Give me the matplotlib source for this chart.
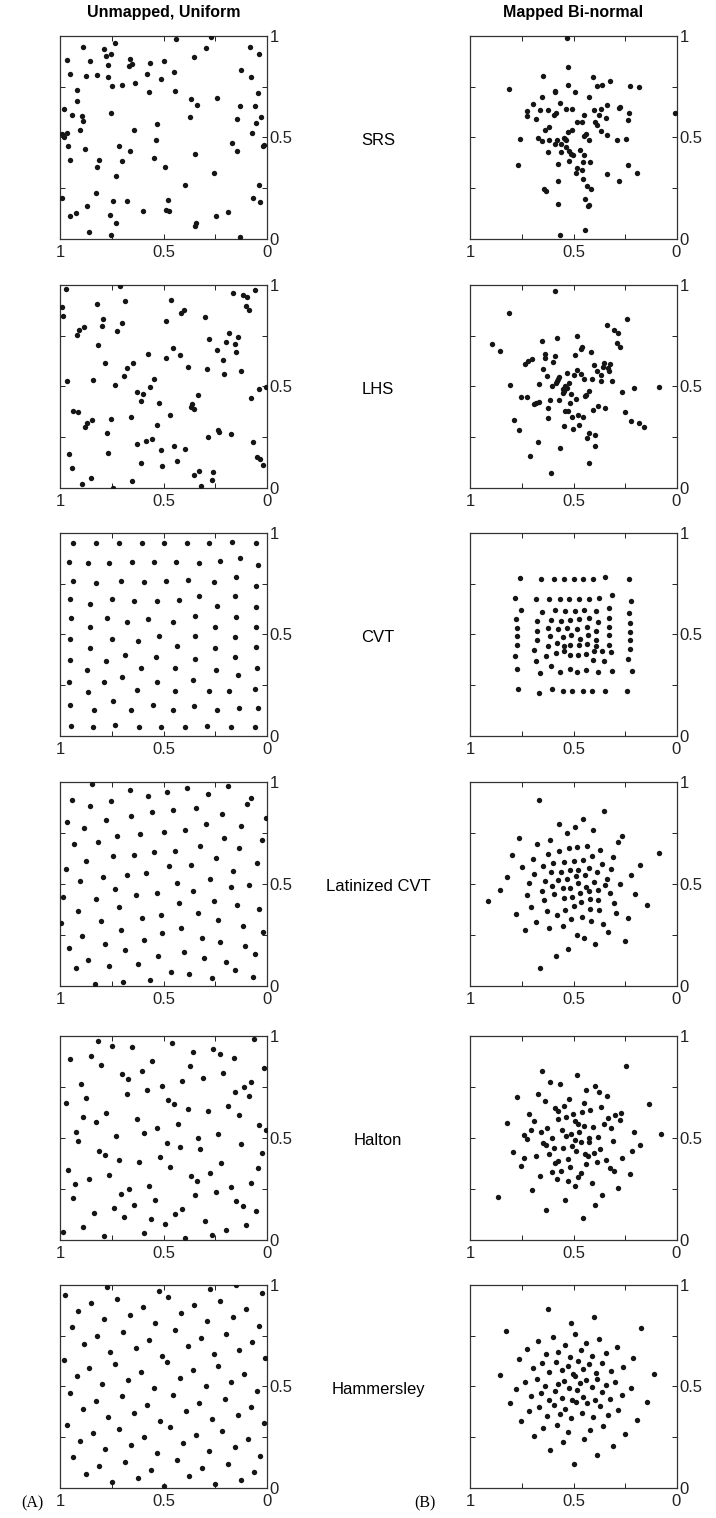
import matplotlib
matplotlib.use("Agg")
import matplotlib.pyplot as plt
import numpy as np

# ---------------- data (x axis is reversed: 1 -> 0) --------------
methods = ["SRS", "LHS", "CVT", "Latinized CVT", "Halton", "Hammersley"]
col_titles = ["Unmapped, Uniform", "Mapped Bi-normal"]
tick_vals = [0, 0.25, 0.5, 0.75, 1]
tick_labels = ["0", "", "0.5", "", "1"]

srs_uniform = [(0.887,0.943),(0.733,0.964),(0.441,0.982),(0.269,0.995),(0.082,0.943),(0.786,0.935),
(0.754,0.912),(0.779,0.899),(0.293,0.938),(0.037,0.912),(0.965,0.881),(0.855,0.874),(0.663,0.887),
(0.651,0.863),(0.667,0.853),(0.770,0.856),(0.567,0.864),(0.498,0.876),(0.351,0.894),(0.952,0.812),
(0.876,0.800),(0.820,0.809),(0.767,0.795),(0.580,0.812),(0.510,0.789),(0.449,0.820),(0.127,0.830),
(0.076,0.797),(0.750,0.753),(0.699,0.758),(0.638,0.769),(0.919,0.732),(0.570,0.725),(0.443,0.727),
(0.045,0.718),(0.918,0.679),(0.367,0.689),(0.243,0.696),(0.337,0.661),(0.129,0.656),(0.058,0.656),
(0.979,0.640),(0.755,0.622),(0.944,0.612),(0.892,0.606),(0.889,0.581),(0.372,0.602),(0.147,0.592),
(0.031,0.599),(0.053,0.573),(0.905,0.535),(0.643,0.538),(0.533,0.566),(0.989,0.519),(0.968,0.524),
(0.982,0.504),(0.071,0.522),(0.960,0.458),(0.881,0.442),(0.713,0.460),(0.663,0.435),(0.536,0.488),
(0.167,0.475),(0.014,0.465),(0.019,0.457),(0.147,0.435),(0.349,0.421),(0.950,0.391),(0.810,0.388),
(0.820,0.355),(0.700,0.386),(0.544,0.398),(0.494,0.357),(0.731,0.313),(0.254,0.324),(0.395,0.265),
(0.040,0.268),(0.826,0.227),(0.992,0.201),(0.746,0.188),(0.678,0.190),(0.478,0.193),(0.068,0.201),
(0.034,0.185),(0.868,0.165),(0.597,0.141),(0.488,0.142),(0.472,0.139),(0.187,0.134),(0.952,0.116),
(0.924,0.128),(0.760,0.118),(0.245,0.115),(0.728,0.079),(0.343,0.082),(0.346,0.064),(0.858,0.034),
(0.752,0.023),(0.130,0.010)]

srs_mapped = [(0.532,0.987),(0.529,0.846),(0.648,0.802),(0.403,0.797),(0.324,0.777),(0.813,0.738),
(0.529,0.758),(0.385,0.751),(0.360,0.756),(0.224,0.755),(0.184,0.746),(0.592,0.728),(0.592,0.722),
(0.492,0.722),(0.652,0.699),(0.426,0.697),(0.695,0.664),(0.566,0.669),(0.335,0.661),(0.274,0.651),
(0.277,0.643),(0.724,0.628),(0.724,0.604),(0.663,0.635),(0.626,0.633),(0.587,0.620),(0.597,0.610),
(0.537,0.640),(0.508,0.638),(0.400,0.635),(0.366,0.638),(0.229,0.622),(0.450,0.609),(0.377,0.609),
(0.340,0.596),(0.681,0.589),(0.484,0.576),(0.460,0.574),(0.394,0.576),(0.387,0.560),(0.235,0.586),
(0.008,0.620),(0.619,0.552),(0.637,0.535),(0.527,0.527),(0.508,0.535),(0.439,0.516),(0.448,0.507),
(0.368,0.530),(0.339,0.514),(0.761,0.494),(0.671,0.499),(0.652,0.484),(0.618,0.489),(0.581,0.486),
(0.548,0.499),(0.542,0.491),(0.535,0.488),(0.424,0.488),(0.290,0.489),(0.244,0.493),(0.592,0.466),
(0.563,0.468),(0.537,0.453),(0.626,0.427),(0.560,0.429),(0.521,0.435),(0.511,0.421),(0.503,0.412),
(0.468,0.437),(0.448,0.412),(0.768,0.365),(0.577,0.370),(0.524,0.385),(0.455,0.380),(0.418,0.378),
(0.234,0.365),(0.190,0.327),(0.484,0.350),(0.458,0.340),(0.490,0.324),(0.339,0.321),(0.281,0.288),
(0.574,0.285),(0.455,0.298),(0.435,0.260),(0.415,0.247),(0.645,0.245),(0.634,0.237),(0.574,0.175),
(0.445,0.198),(0.427,0.167),(0.432,0.162),(0.566,0.021),(0.445,0.046)]

lhs_uniform = [(0.969,0.979),(0.710,0.992),(0.992,0.892),(0.984,0.846),(0.821,0.907),(0.684,0.918),
(0.462,0.926),(0.163,0.961),(0.116,0.949),(0.095,0.939),(0.060,0.972),(0.103,0.897),(0.089,0.874),
(0.414,0.859),(0.403,0.874),(0.490,0.823),(0.300,0.843),(0.792,0.830),(0.799,0.799),(0.702,0.810),
(0.725,0.771),(0.907,0.777),(0.884,0.791),(0.918,0.754),(0.816,0.704),(0.279,0.732),(0.182,0.763),
(0.138,0.743),(0.196,0.718),(0.153,0.707),(0.242,0.678),(0.150,0.669),(0.456,0.691),(0.420,0.653),
(0.575,0.661),(0.488,0.640),(0.214,0.632),(0.783,0.617),(0.646,0.614),(0.678,0.591),(0.383,0.597),
(0.291,0.584),(0.127,0.576),(0.209,0.563),(0.691,0.552),(0.546,0.538),(0.968,0.525),(0.839,0.534),
(0.733,0.509),(0.565,0.496),(0.626,0.475),(0.599,0.465),(0.609,0.429),(0.523,0.421),(0.333,0.457),
(0.364,0.416),(0.369,0.401),(0.353,0.390),(0.469,0.360),(0.037,0.486),(0.006,0.498),(0.079,0.442),
(0.936,0.380),(0.913,0.375),(0.847,0.334),(0.868,0.321),(0.878,0.301),(0.755,0.342),(0.659,0.350),
(0.530,0.311),(0.771,0.270),(0.235,0.288),(0.232,0.278),(0.176,0.265),(0.285,0.250),(0.557,0.244),
(0.586,0.234),(0.630,0.216),(0.066,0.226),(0.958,0.167),(0.767,0.173),(0.510,0.188),(0.449,0.208),
(0.396,0.191),(0.607,0.123),(0.507,0.108),(0.433,0.133),(0.944,0.098),(0.047,0.154),(0.034,0.144),
(0.021,0.116),(0.329,0.083),(0.351,0.065),(0.259,0.079),(0.264,0.041),(0.849,0.051),(0.895,0.020),
(0.651,0.036),(0.744,0.003),(0.317,0.011)]

lhs_mapped = [(0.592,0.970),(0.813,0.860),(0.242,0.833),(0.335,0.802),(0.303,0.777),(0.282,0.764),
(0.895,0.710),(0.858,0.672),(0.653,0.723),(0.581,0.738),(0.485,0.746),(0.290,0.715),(0.276,0.693),
(0.637,0.658),(0.640,0.640),(0.589,0.649),(0.600,0.622),(0.495,0.657),(0.460,0.696),(0.463,0.683),
(0.413,0.668),(0.734,0.612),(0.723,0.624),(0.702,0.634),(0.648,0.587),(0.629,0.550),(0.402,0.604),
(0.384,0.576),(0.368,0.556),(0.352,0.617),(0.358,0.596),(0.332,0.592),(0.321,0.609),(0.326,0.574),
(0.532,0.568),(0.482,0.579),(0.466,0.563),(0.498,0.558),(0.448,0.538),(0.408,0.535),(0.366,0.525),
(0.311,0.528),(0.569,0.546),(0.576,0.535),(0.581,0.525),(0.587,0.518),(0.603,0.502),(0.521,0.515),
(0.666,0.512),(0.808,0.508),(0.539,0.502),(0.553,0.488),(0.547,0.480),(0.531,0.490),(0.511,0.465),
(0.550,0.469),(0.427,0.479),(0.440,0.459),(0.444,0.452),(0.266,0.472),(0.205,0.492),(0.085,0.498),
(0.756,0.447),(0.726,0.446),(0.694,0.414),(0.681,0.419),(0.669,0.426),(0.616,0.431),(0.569,0.432),
(0.515,0.417),(0.489,0.437),(0.624,0.396),(0.623,0.343),(0.539,0.380),(0.529,0.381),(0.505,0.351),
(0.477,0.361),(0.456,0.351),(0.406,0.386),(0.379,0.403),(0.345,0.393),(0.250,0.375),(0.221,0.328),
(0.182,0.322),(0.158,0.299),(0.787,0.337),(0.766,0.284),(0.545,0.305),(0.503,0.292),(0.473,0.312),
(0.426,0.271),(0.435,0.248),(0.394,0.262),(0.397,0.206),(0.673,0.229),(0.565,0.200),(0.710,0.158),
(0.423,0.122),(0.610,0.073)]

cvt_uniform = [(0.937,0.951),(0.824,0.948),(0.713,0.948),(0.604,0.948),(0.496,0.949),(0.386,0.948),
(0.280,0.949),(0.171,0.954),(0.053,0.948),
(0.957,0.858),(0.863,0.853),(0.762,0.853),(0.654,0.854),(0.548,0.854),(0.438,0.856),(0.329,0.853),
(0.227,0.859),(0.129,0.877),(0.045,0.840),
(0.937,0.764),(0.824,0.753),(0.705,0.763),(0.594,0.758),(0.486,0.761),(0.380,0.768),(0.254,0.756),
(0.148,0.784),(0.052,0.736),
(0.952,0.676),(0.855,0.651),(0.747,0.673),(0.641,0.664),(0.530,0.663),(0.427,0.669),(0.327,0.689),
(0.242,0.642),(0.153,0.689),(0.052,0.637),
(0.948,0.579),(0.857,0.535),(0.775,0.581),(0.678,0.563),(0.573,0.576),(0.454,0.561),(0.346,0.589),
(0.250,0.537),(0.150,0.588),(0.052,0.538),
(0.952,0.478),(0.853,0.432),(0.750,0.480),(0.623,0.470),(0.522,0.491),(0.435,0.444),(0.349,0.493),
(0.251,0.434),(0.153,0.489),(0.052,0.439),
(0.952,0.373),(0.868,0.324),(0.778,0.370),(0.684,0.398),(0.610,0.337),(0.535,0.390),(0.446,0.334),
(0.346,0.380),(0.248,0.324),(0.153,0.390),(0.142,0.301),(0.048,0.337),
(0.955,0.267),(0.866,0.216),(0.789,0.265),(0.700,0.290),(0.630,0.226),(0.531,0.268),(0.443,0.221),
(0.359,0.275),(0.280,0.224),(0.182,0.221),(0.056,0.234),
(0.950,0.151),(0.834,0.128),(0.742,0.175),(0.655,0.129),(0.551,0.154),(0.456,0.128),(0.351,0.149),
(0.240,0.131),(0.135,0.137),(0.043,0.141),
(0.948,0.052),(0.839,0.043),(0.733,0.054),(0.618,0.046),(0.512,0.047),(0.398,0.046),(0.291,0.049),
(0.174,0.046),(0.060,0.046)]

cvt_mapped = [(0.760,0.777),(0.658,0.771),(0.595,0.771),(0.545,0.772),(0.498,0.772),(0.452,0.771),
(0.403,0.772),(0.345,0.782),(0.232,0.771),
(0.785,0.679),(0.682,0.674),(0.619,0.674),(0.566,0.676),(0.523,0.676),(0.473,0.676),(0.426,0.674),
(0.376,0.679),(0.311,0.692),(0.219,0.664),
(0.756,0.620),(0.655,0.612),(0.590,0.619),(0.542,0.615),(0.494,0.617),(0.448,0.620),(0.390,0.615),
(0.326,0.630),(0.229,0.604),
(0.777,0.576),(0.677,0.565),(0.611,0.571),(0.560,0.568),(0.515,0.571),(0.471,0.574),(0.427,0.583),
(0.381,0.560),(0.329,0.581),(0.227,0.556),
(0.773,0.534),(0.677,0.516),(0.626,0.534),(0.577,0.527),(0.531,0.532),(0.481,0.525),(0.435,0.538),
(0.389,0.516),(0.327,0.537),(0.227,0.514),
(0.776,0.491),(0.677,0.471),(0.613,0.493),(0.552,0.488),(0.510,0.496),(0.469,0.478),(0.432,0.496),
(0.390,0.473),(0.327,0.496),(0.226,0.475),
(0.776,0.447),(0.690,0.426),(0.626,0.445),(0.581,0.457),(0.544,0.442),(0.516,0.450),(0.474,0.448),
(0.434,0.452),(0.389,0.442),(0.326,0.450),(0.224,0.429),
(0.782,0.396),(0.634,0.396),(0.587,0.408),(0.548,0.419),(0.515,0.399),(0.476,0.399),(0.439,0.403),
(0.402,0.419),(0.363,0.417),(0.319,0.412),(0.237,0.378),(0.684,0.368),(0.403,0.373),(0.350,0.370),
(0.773,0.329),(0.661,0.311),(0.610,0.345),(0.566,0.314),(0.519,0.329),(0.482,0.314),(0.437,0.326),
(0.382,0.314),(0.315,0.319),(0.215,0.321),
(0.768,0.231),(0.666,0.214),(0.603,0.232),(0.552,0.223),(0.505,0.224),(0.456,0.223),(0.408,0.224),
(0.347,0.223),(0.240,0.221)]

lcvt_uniform = [(0.844,0.992),(0.663,0.962),(0.485,0.952),(0.385,0.972),(0.187,0.980),(0.285,0.943),
(0.575,0.933),(0.077,0.923),(0.097,0.892),(0.944,0.913),(0.754,0.905),(0.853,0.882),(0.345,0.874),
(0.456,0.862),(0.556,0.854),(0.655,0.833),(0.216,0.843),(0.006,0.825),(0.965,0.803),(0.776,0.815),
(0.295,0.792),(0.882,0.774),(0.126,0.782),(0.496,0.752),(0.395,0.764),(0.614,0.743),(0.725,0.733),
(0.208,0.723),(0.026,0.713),(0.932,0.693),(0.815,0.703),(0.325,0.684),(0.135,0.674),(0.444,0.662),
(0.546,0.654),(0.644,0.643),(0.742,0.634),(0.245,0.625),(0.874,0.613),(0.047,0.603),(0.366,0.593),
(0.973,0.574),(0.475,0.585),(0.164,0.564),(0.585,0.554),(0.676,0.544),(0.794,0.534),(0.275,0.523),
(0.905,0.515),(0.085,0.495),(0.433,0.505),(0.176,0.484),(0.733,0.474),(0.356,0.464),(0.533,0.454),
(0.634,0.444),(0.984,0.434),(0.824,0.425),(0.254,0.415),(0.425,0.405),(0.147,0.395),(0.715,0.384),
(0.037,0.374),(0.915,0.366),(0.335,0.354),(0.514,0.344),(0.605,0.333),(0.237,0.323),(0.804,0.315),
(0.994,0.305),(0.116,0.293),(0.415,0.284),(0.705,0.275),(0.018,0.264),(0.506,0.256),(0.892,0.244),
(0.316,0.234),(0.594,0.225),(0.227,0.216),(0.784,0.205),(0.955,0.185),(0.686,0.175),(0.403,0.166),
(0.106,0.195),(0.056,0.154),(0.525,0.146),(0.304,0.134),(0.863,0.126),(0.196,0.115),(0.625,0.105),
(0.765,0.095),(0.924,0.085),(0.156,0.077),(0.464,0.064),(0.375,0.056),(0.267,0.036),(0.068,0.044),
(0.565,0.026),(0.694,0.015),(0.833,0.005)]

lcvt_mapped = [(0.669,0.913),(0.352,0.856),(0.452,0.820),(0.571,0.795),(0.494,0.779),(0.531,0.749),
(0.406,0.762),(0.265,0.736),(0.284,0.705),(0.765,0.726),(0.616,0.716),(0.676,0.697),(0.085,0.652),
(0.798,0.641),(0.626,0.646),(0.568,0.659),(0.524,0.674),(0.482,0.682),(0.435,0.687),(0.369,0.667),
(0.698,0.623),(0.310,0.630),(0.752,0.584),(0.648,0.589),(0.600,0.603),(0.547,0.608),(0.498,0.613),
(0.455,0.618),(0.411,0.634),(0.363,0.597),(0.177,0.593),(0.821,0.531),(0.690,0.546),(0.608,0.556),
(0.561,0.557),(0.518,0.566),(0.477,0.569),(0.427,0.579),(0.385,0.559),(0.316,0.572),(0.219,0.544),
(0.855,0.470),(0.718,0.505),(0.637,0.515),(0.577,0.516),(0.532,0.521),(0.490,0.536),(0.444,0.541),
(0.400,0.508),(0.339,0.525),(0.273,0.497),(0.655,0.466),(0.603,0.489),(0.553,0.477),(0.515,0.480),
(0.477,0.505),(0.440,0.485),(0.348,0.492),(0.727,0.443),(0.594,0.452),(0.544,0.430),(0.506,0.433),
(0.468,0.456),(0.427,0.464),(0.379,0.467),(0.324,0.454),(0.200,0.448),(0.915,0.415),(0.642,0.418),
(0.539,0.372),(0.500,0.392),(0.463,0.408),(0.419,0.423),(0.379,0.420),(0.302,0.407),(0.708,0.384),
(0.631,0.364),(0.582,0.344),(0.511,0.325),(0.461,0.338),(0.419,0.377),(0.376,0.369),(0.292,0.357),
(0.144,0.395),(0.779,0.351),(0.682,0.310),(0.553,0.292),(0.415,0.316),(0.356,0.300),(0.234,0.330),
(0.737,0.272),(0.621,0.282),(0.331,0.262),(0.485,0.249),(0.448,0.234),(0.397,0.202),(0.250,0.220),
(0.527,0.177),(0.584,0.143),(0.661,0.087)]

halton_uniform = [(0.818,0.977),(0.750,0.952),(0.654,0.944),(0.457,0.967),(0.063,0.984),(0.259,0.937),
(0.229,0.913),(0.359,0.921),(0.161,0.891),(0.950,0.885),(0.850,0.904),(0.800,0.858),(0.556,0.875),
(0.374,0.852),(0.014,0.845),(0.702,0.812),(0.670,0.789),(0.605,0.829),(0.309,0.796),(0.211,0.819),
(0.900,0.764),(0.507,0.756),(0.409,0.781),(0.079,0.773),(0.113,0.750),(0.153,0.725),(0.085,0.703),
(0.874,0.697),(0.678,0.717),(0.580,0.733),(0.973,0.671),(0.480,0.687),(0.448,0.664),(0.187,0.657),
(0.383,0.641),(0.283,0.633),(0.776,0.624),(0.137,0.610),(0.890,0.601),(0.824,0.577),(0.630,0.593),
(0.432,0.570),(0.037,0.563),(0.006,0.537),(0.923,0.530),(0.530,0.547),(0.596,0.524),(0.728,0.507),
(0.235,0.516),(0.333,0.499),(0.911,0.483),(0.485,0.476),(0.420,0.453),(0.322,0.445),(0.124,0.468),
(0.813,0.437),(0.781,0.414),(0.713,0.389),(0.617,0.382),(0.519,0.405),(0.469,0.357),(0.222,0.376),
(0.026,0.423),(0.042,0.351),(0.960,0.343),(0.763,0.318),(0.369,0.311),(0.337,0.287),(0.274,0.326),
(0.862,0.295),(0.928,0.272),(0.568,0.265),(0.174,0.257),(0.076,0.280),(0.707,0.226),(0.667,0.249),
(0.541,0.196),(0.346,0.217),(0.246,0.234),(0.936,0.203),(0.641,0.171),(0.739,0.155),(0.837,0.132),
(0.412,0.148),(0.443,0.124),(0.150,0.188),(0.116,0.163),(0.052,0.140),(0.689,0.109),(0.560,0.100),
(0.493,0.077),(0.298,0.091),(0.887,0.063),(0.198,0.046),(0.100,0.069),(0.986,0.038),(0.787,0.015),
(0.593,0.030),(0.395,0.008),(0.264,0.023)]

halton_mapped = [(0.652,0.827),(0.484,0.807),(0.245,0.853),(0.613,0.774),(0.566,0.764),(0.395,0.755),
(0.440,0.735),(0.376,0.725),(0.335,0.705),(0.773,0.699),(0.673,0.717),(0.640,0.679),(0.524,0.689),
(0.447,0.672),(0.134,0.667),(0.590,0.646),(0.574,0.633),(0.545,0.657),(0.418,0.638),(0.366,0.652),
(0.715,0.619),(0.503,0.616),(0.460,0.628),(0.268,0.624),(0.298,0.611),(0.331,0.598),(0.276,0.586),
(0.824,0.573),(0.692,0.583),(0.577,0.593),(0.534,0.601),(0.495,0.582),(0.477,0.570),(0.450,0.558),
(0.405,0.555),(0.352,0.567),(0.318,0.547),(0.627,0.550),(0.708,0.540),(0.656,0.530),(0.740,0.512),
(0.726,0.493),(0.602,0.501),(0.555,0.539),(0.537,0.511),(0.513,0.519),(0.473,0.527),(0.206,0.526),
(0.077,0.516),(0.494,0.488),(0.466,0.479),(0.426,0.501),(0.424,0.478),(0.381,0.504),(0.308,0.484),
(0.650,0.474),(0.632,0.465),(0.595,0.451),(0.550,0.448),(0.505,0.458),(0.489,0.437),(0.444,0.420),
(0.431,0.409),(0.402,0.425),(0.373,0.446),(0.176,0.466),(0.215,0.433),(0.795,0.432),(0.621,0.422),
(0.682,0.409),(0.742,0.399),(0.756,0.359),(0.573,0.387),(0.590,0.376),(0.529,0.394),(0.437,0.371),
(0.387,0.379),(0.344,0.390),(0.263,0.402),(0.324,0.353),(0.303,0.336),(0.561,0.339),(0.518,0.354),
(0.606,0.331),(0.665,0.313),(0.582,0.295),(0.526,0.287),(0.463,0.325),(0.476,0.308),(0.411,0.280),
(0.227,0.320),(0.495,0.262),(0.703,0.245),(0.285,0.254),(0.360,0.221),(0.868,0.208),(0.539,0.193),
(0.397,0.171),(0.634,0.147),(0.456,0.107)]

hamm_uniform = [(0.773,0.990),(0.522,0.970),(0.274,0.980),(0.150,0.999),(0.974,0.949),(0.725,0.931),
(0.477,0.941),(0.227,0.919),(0.024,0.959),(0.850,0.911),(0.601,0.891),(0.351,0.901),(0.103,0.880),
(0.911,0.870),(0.663,0.850),(0.414,0.860),(0.163,0.840),(0.787,0.830),(0.539,0.811),(0.288,0.820),
(0.040,0.799),(0.944,0.791),(0.694,0.769),(0.446,0.779),(0.196,0.759),(0.820,0.750),(0.570,0.730),
(0.320,0.740),(0.071,0.720),(0.882,0.710),(0.633,0.690),(0.383,0.700),(0.134,0.679),(0.757,0.671),
(0.509,0.651),(0.258,0.661),(0.981,0.631),(0.483,0.621),(0.733,0.611),(0.235,0.600),(0.010,0.639),
(0.858,0.590),(0.609,0.570),(0.359,0.580),(0.110,0.560),(0.919,0.550),(0.671,0.530),(0.422,0.540),
(0.172,0.521),(0.795,0.511),(0.546,0.491),(0.296,0.501),(0.048,0.479),(0.952,0.470),(0.702,0.451),
(0.452,0.460),(0.203,0.440),(0.826,0.430),(0.578,0.410),(0.329,0.420),(0.079,0.400),(0.887,0.390),
(0.641,0.371),(0.390,0.381),(0.142,0.359),(0.767,0.351),(0.515,0.331),(0.266,0.341),(0.966,0.311),
(0.467,0.300),(0.016,0.320),(0.717,0.290),(0.219,0.280),(0.842,0.270),(0.593,0.250),(0.343,0.260),
(0.093,0.241),(0.905,0.231),(0.655,0.211),(0.406,0.221),(0.156,0.201),(0.781,0.191),(0.530,0.171),
(0.280,0.181),(0.032,0.160),(0.936,0.152),(0.686,0.130),(0.436,0.140),(0.188,0.120),(0.812,0.110),
(0.562,0.091),(0.312,0.100),(0.063,0.081),(0.873,0.071),(0.625,0.051),(0.375,0.061),(0.124,0.040),
(0.747,0.030),(0.499,0.012),(0.250,0.020)]

hamm_mapped = [(0.626,0.881),(0.402,0.839),(0.510,0.811),(0.174,0.789),(0.827,0.771),(0.492,0.756),
(0.600,0.745),(0.376,0.731),(0.673,0.723),(0.439,0.713),(0.542,0.703),(0.726,0.685),(0.290,0.694),
(0.465,0.677),(0.573,0.671),(0.340,0.664),(0.634,0.659),(0.410,0.651),(0.516,0.644),(0.765,0.634),
(0.210,0.638),(0.479,0.626),(0.584,0.621),(0.361,0.616),(0.653,0.613),(0.424,0.608),(0.529,0.600),
(0.698,0.591),(0.258,0.596),(0.452,0.586),(0.556,0.582),(0.316,0.577),(0.618,0.573),(0.503,0.563),
(0.390,0.568),(0.855,0.554),(0.108,0.560),(0.495,0.552),(0.679,0.535),(0.440,0.534),(0.544,0.527),
(0.297,0.524),(0.735,0.522),(0.385,0.539),(0.574,0.512),(0.469,0.517),(0.639,0.502),(0.411,0.499),
(0.344,0.507),(0.223,0.491),(0.777,0.486),(0.521,0.491),(0.589,0.478),(0.482,0.483),(0.658,0.470),
(0.360,0.473),(0.705,0.455),(0.453,0.448),(0.266,0.456),(0.558,0.443),(0.621,0.435),(0.506,0.432),
(0.398,0.432),(0.323,0.438),(0.808,0.418),(0.145,0.422),(0.490,0.422),(0.597,0.409),(0.539,0.387),
(0.434,0.417),(0.371,0.402),(0.718,0.377),(0.668,0.397),(0.566,0.366),(0.461,0.371),(0.282,0.382),
(0.627,0.356),(0.403,0.348),(0.513,0.343),(0.332,0.359),(0.753,0.328),(0.194,0.334),(0.581,0.313),
(0.355,0.305),(0.647,0.297),(0.526,0.278),(0.418,0.287),(0.690,0.255),(0.447,0.244),(0.248,0.267),
(0.553,0.227),(0.310,0.209),(0.613,0.189),(0.387,0.163),(0.500,0.120)]

panels = [
    (srs_uniform, srs_mapped),
    (lhs_uniform, lhs_mapped),
    (cvt_uniform, cvt_mapped),
    (lcvt_uniform, lcvt_mapped),
    (halton_uniform, halton_mapped),
    (hamm_uniform, hamm_mapped),
]

# ---------------- layout (pixels of a 716 x 1518 canvas) ----------------
W, H = 716, 1518
fig = plt.figure(figsize=(W / 100, H / 100), dpi=100)
fig.patch.set_facecolor("white")
plt.rcParams["font.family"] = ["Liberation Sans", "DejaVu Sans"]

col_left = [60, 470.5]
col_width = [207, 206]
row_tops = [35.7, 284.7, 532.7, 782.0, 1036.0, 1284.7]
row_h = 203.5

def add_ax(left, top, w, h):
    return fig.add_axes([left / W, 1 - (top + h) / H, w / W, h / H])

for r, (pu, pm) in enumerate(panels):
    for c, pts in enumerate((pu, pm)):
        ax = add_ax(col_left[c], row_tops[r], col_width[c], row_h)
        arr = np.array(pts)
        ax.scatter(arr[:, 0], arr[:, 1], s=15, color="#151515", linewidths=0, zorder=3)
        ax.set_xlim(1, 0)
        ax.set_ylim(0, 1)
        ax.set_xticks(tick_vals)
        ax.set_xticklabels(tick_labels)
        ax.set_yticks(tick_vals)
        ax.set_yticklabels(tick_labels)
        ax.yaxis.tick_right()
        ax.tick_params(axis="both", direction="in", length=3.5, width=0.7,
                       labelsize=12, top=True, bottom=True, left=True, right=True,
                       colors="#222222")
        ax.tick_params(axis="x", pad=4.5)
        ax.tick_params(axis="y", pad=2)
        for sp in ax.spines.values():
            sp.set_linewidth(0.9)
            sp.set_color("#333333")
    # row label between columns
    yc = row_tops[r] + row_h / 2 + 3
    fig.text(378 / W, 1 - yc / H, methods[r], ha="center", va="center", fontsize=12)

# column titles
fig.text((col_left[0] + col_width[0] / 2) / W, 1 - 12 / H, col_titles[0],
         ha="center", va="center", fontsize=11.5, fontweight="bold")
fig.text((col_left[1] + col_width[1] / 2) / W, 1 - 12 / H, col_titles[1],
         ha="center", va="center", fontsize=11.5, fontweight="bold")

# panel letters
fig.text(32 / W, 1 - 1503 / H, "(A)", ha="center", va="center", fontsize=11.5,
         family=["Liberation Serif", "DejaVu Serif"])
fig.text(425 / W, 1 - 1503 / H, "(B)", ha="center", va="center", fontsize=11.5,
         family=["Liberation Serif", "DejaVu Serif"])

fig.savefig("out.png", dpi=100, facecolor="white")
